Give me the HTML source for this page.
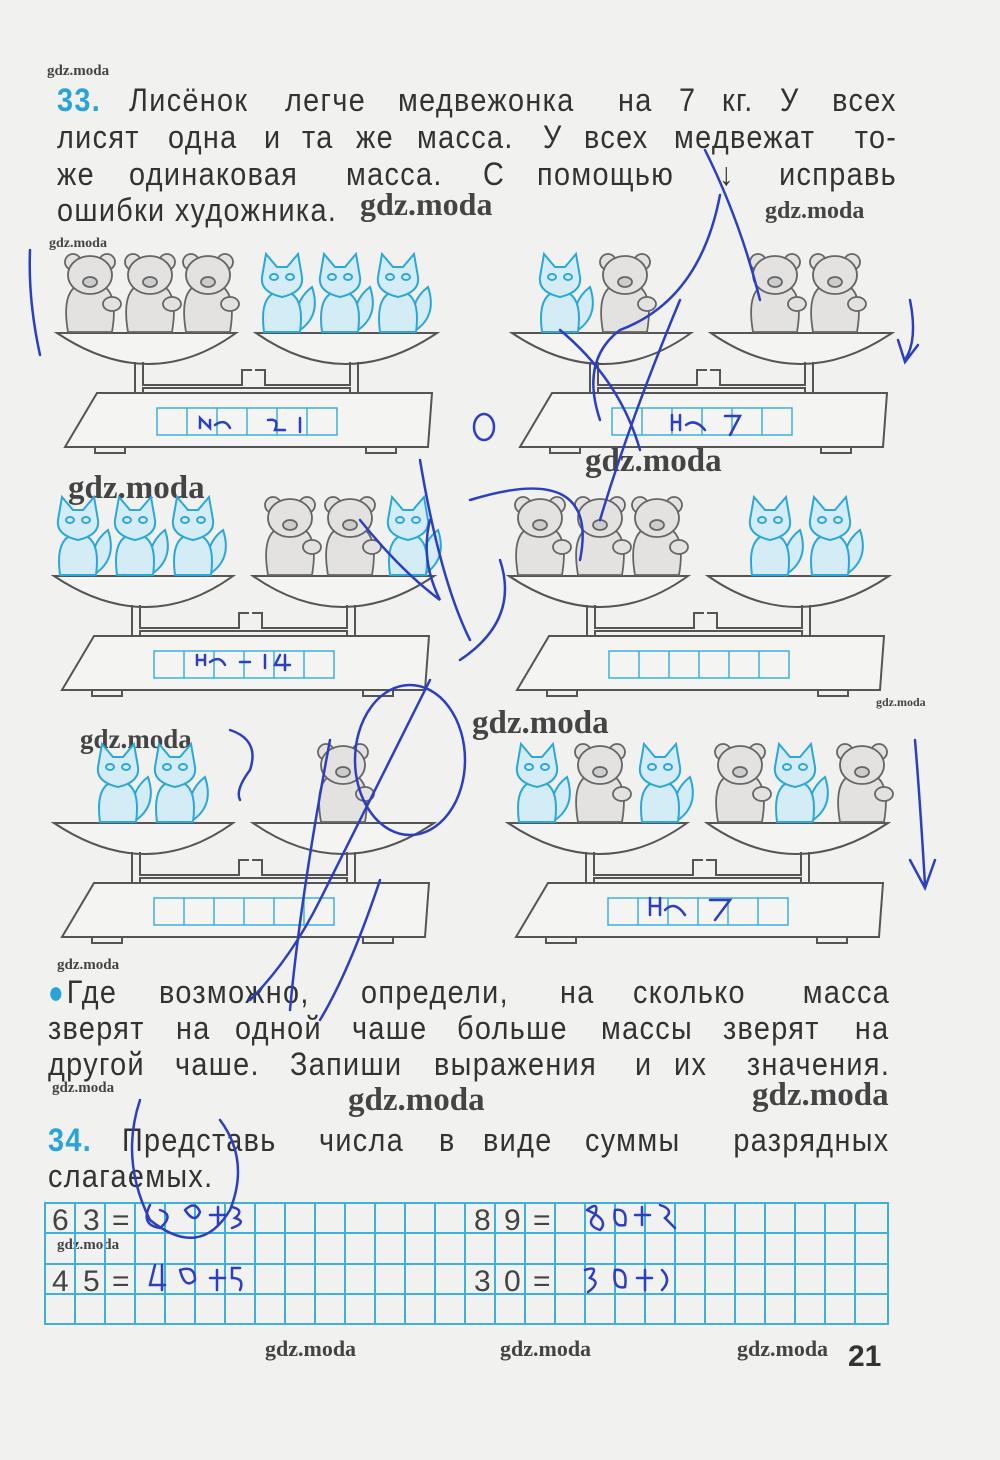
<!DOCTYPE html>
<html><head><meta charset="utf-8">
<style>
body{margin:0;background:#efefed;}
#p{position:relative;width:1000px;height:1460px;overflow:hidden;background:#f1f1ef;font-family:"Liberation Sans Narrow","Liberation Sans",sans-serif;color:#333;}
.ln{position:absolute;left:57px;width:840px;display:flex;justify-content:space-between;font-size:32px;line-height:36px;letter-spacing:1.5px;white-space:nowrap;}
.ln span{display:inline-block;transform:scaleX(.9);transform-origin:left center;}
.ln span.r{transform-origin:right center;}
.n{color:#2aa3d6;font-weight:bold;font-family:"Liberation Sans",sans-serif;}
.wm{position:absolute;font-family:"Liberation Serif",serif;font-weight:bold;color:#444;}
svg{position:absolute;left:0;top:0;}
</style></head><body><div id="p">
<div class="ln" style="top:82px"><span class="n">33.</span><span>Лисёнок</span><span>легче</span><span>медвежонка</span><span>на</span><span>7</span><span>кг.</span><span>У</span><span class="r">всех</span></div>
<div class="ln" style="top:119px"><span>лисят</span><span>одна</span><span>и</span><span>та</span><span>же</span><span>масса.</span><span>У</span><span>всех</span><span>медвежат</span><span class="r">то-</span></div>
<div class="ln" style="top:156px"><span>же</span><span>одинаковая</span><span>масса.</span><span>С</span><span>помощью</span><span>&#8595;</span><span class="r">исправь</span></div>
<div class="ln" style="top:192px;width:auto;"><span>ошибки художника.</span></div>

<div class="ln" style="top:974px;left:48px;width:842px"><span><span style="color:#2aa3d6">●</span>Где</span><span>возможно,</span><span>определи,</span><span>на</span><span>сколько</span><span class="r">масса</span></div>
<div class="ln" style="top:1010px;left:48px;width:842px"><span>зверят</span><span>на</span><span>одной</span><span>чаше</span><span>больше</span><span>массы</span><span>зверят</span><span class="r">на</span></div>
<div class="ln" style="top:1046px;left:48px;width:842px"><span>другой</span><span>чаше.</span><span>Запиши</span><span>выражения</span><span>и</span><span>их</span><span class="r">значения.</span></div>
<div class="ln" style="top:1122px;left:48px;width:842px"><span class="n">34.</span><span>Представь</span><span>числа</span><span>в</span><span>виде</span><span>суммы</span><span class="r">разрядных</span></div>
<div class="ln" style="top:1158px;left:48px;width:auto"><span>слагаемых.</span></div>

<div class="wm" style="left:47px;top:63px;font-size:15px">gdz.moda</div>
<div class="wm" style="left:360px;top:186px;font-size:32px">gdz.moda</div>
<div class="wm" style="left:765px;top:198px;font-size:24px">gdz.moda</div>
<div class="wm" style="left:49px;top:236px;font-size:14px">gdz.moda</div>
<div class="wm" style="left:68px;top:470px;font-size:33px">gdz.moda</div>
<div class="wm" style="left:585px;top:443px;font-size:33px">gdz.moda</div>
<div class="wm" style="left:80px;top:724px;font-size:27px">gdz.moda</div>
<div class="wm" style="left:472px;top:705px;font-size:33px">gdz.moda</div>
<div class="wm" style="left:876px;top:695px;font-size:12px">gdz.moda</div>
<div class="wm" style="left:57px;top:957px;font-size:15px">gdz.moda</div>
<div class="wm" style="left:52px;top:1080px;font-size:15px">gdz.moda</div>
<div class="wm" style="left:348px;top:1082px;font-size:33px">gdz.moda</div>
<div class="wm" style="left:752px;top:1077px;font-size:33px">gdz.moda</div>
<div class="wm" style="left:57px;top:1237px;font-size:15px">gdz.moda</div>
<div class="wm" style="left:265px;top:1336px;font-size:22px">gdz.moda</div>
<div class="wm" style="left:500px;top:1336px;font-size:22px">gdz.moda</div>
<div class="wm" style="left:737px;top:1336px;font-size:22px">gdz.moda</div>
<div style="position:absolute;left:848px;top:1340px;font:bold 30px 'Liberation Sans',sans-serif;color:#333">21</div>

<svg width="1000" height="1460" viewBox="0 0 1000 1460">
<defs>
<g id="scale" fill="none" stroke="#555" stroke-width="2">
 <path d="M57,333 L236,333 Q150,395 57,333 Z" fill="#f4f4f2"/>
 <path d="M256,333 L437,333 Q345,395 256,333 Z" fill="#f4f4f2"/>
 <path d="M135,362 V393 M143,362 V385 H242 V370 H252 M358,362 V393 M350,362 V385 H265 V370 H255 M143,393 V388 H350 V393"/>
 <path d="M97,393 L432,393 L428,447 L65,447 Z" fill="#f4f4f2"/>
 <rect x="95" y="447" width="30" height="6"/><rect x="366" y="447" width="30" height="6"/>
 <g stroke="#3fb0d8" stroke-width="1.5"><rect x="157" y="408" width="180" height="27"/>
 <path d="M187,408V435M217,408V435M247,408V435M277,408V435M307,408V435"/></g>
</g>
<g id="bear" fill="#e4e2e0" stroke="#666" stroke-width="1.8">
 <circle cx="-17" cy="-70" r="8"/><circle cx="17" cy="-70" r="8"/>
 <path d="M-22,0 Q-28,-35 -15,-45 L15,-45 Q28,-35 22,0 Z"/>
 <ellipse cx="0" cy="-57" rx="22" ry="19"/>
 <ellipse cx="0" cy="-50" rx="7" ry="5" fill="#ccc"/>
 <ellipse cx="22" cy="-28" rx="9" ry="7"/>
</g>
<g id="fox" fill="#d3ecf6" stroke="#2ba7d8" stroke-width="2">
 <path d="M15,0 Q40,-15 30,-45 Q10,-30 15,0 Z"/>
 <path d="M-18,0 Q-22,-30 -10,-38 L10,-38 Q22,-30 18,0 Z"/>
 <path d="M-20,-55 L-16,-78 L-5,-65 L5,-65 L16,-78 L20,-55 Q22,-40 0,-35 Q-22,-40 -20,-55 Z"/>
 <ellipse cx="-8" cy="-55" rx="4" ry="3"/><ellipse cx="8" cy="-55" rx="4" ry="3"/>
</g>
</defs>
<use href="#scale"/>
<use href="#bear" x="90" y="332"/><use href="#bear" x="150" y="332"/><use href="#bear" x="208" y="332"/>
<use href="#fox" x="282" y="332"/><use href="#fox" x="340" y="332"/><use href="#fox" x="398" y="332"/>
<g transform="translate(455,0)"><use href="#scale"/></g>
<use href="#fox" x="560" y="332"/><use href="#bear" x="625" y="332"/><use href="#bear" x="775" y="332"/><use href="#bear" x="835" y="332"/>
<g transform="translate(-3,243)"><use href="#scale"/></g>
<use href="#fox" x="78" y="575"/><use href="#fox" x="135" y="575"/><use href="#fox" x="193" y="575"/>
<use href="#bear" x="290" y="575"/><use href="#bear" x="350" y="575"/><use href="#fox" x="408" y="575"/>
<g transform="translate(452,243)"><use href="#scale"/></g>
<use href="#bear" x="540" y="575"/><use href="#bear" x="600" y="575"/><use href="#bear" x="657" y="575"/>
<use href="#fox" x="770" y="575"/><use href="#fox" x="830" y="575"/>
<g transform="translate(-3,490)"><use href="#scale"/></g>
<use href="#fox" x="118" y="822"/><use href="#fox" x="175" y="822"/><use href="#bear" x="343" y="822"/>
<g transform="translate(451,490)"><use href="#scale"/></g>
<use href="#fox" x="537" y="822"/><use href="#bear" x="600" y="822"/><use href="#fox" x="660" y="822"/>
<use href="#bear" x="740" y="822"/><use href="#fox" x="795" y="822"/><use href="#bear" x="862" y="822"/>

<g stroke="#3fb0d8" stroke-width="2" fill="none">
 <rect x="45" y="1203" width="843" height="121"/>
 <path d="M45,1233H888M45,1264H888M45,1294H888"/>
 <path d="M75,1203V1324M105,1203V1324M135,1203V1324M165,1203V1324M195,1203V1324M225,1203V1324M255,1203V1324M285,1203V1324M315,1203V1324M345,1203V1324M375,1203V1324M405,1203V1324M435,1203V1324M465,1203V1324M495,1203V1324M525,1203V1324M555,1203V1324M585,1203V1324M615,1203V1324M645,1203V1324M675,1203V1324M705,1203V1324M735,1203V1324M765,1203V1324M795,1203V1324M825,1203V1324M855,1203V1324"/>
</g>
<g font-family="Liberation Sans,sans-serif" font-size="30" fill="#444">
 <text x="52" y="1230">6</text><text x="83" y="1230">3</text><text x="112" y="1230">=</text>
 <text x="52" y="1291">4</text><text x="83" y="1291">5</text><text x="112" y="1291">=</text>
 <text x="474" y="1230">8</text><text x="504" y="1230">9</text><text x="533" y="1230">=</text>
 <text x="474" y="1291">3</text><text x="504" y="1291">0</text><text x="533" y="1291">=</text>
</g>
<g fill="none" stroke="#2b3fbf" stroke-width="2.5" stroke-linecap="round">
 <path d="M30,250 Q28,300 40,355"/><path d="M910,300 Q918,340 905,360 M898,340 L905,362 L918,345"/>
 <path d="M705,150 Q740,220 760,300 M720,195 Q700,300 620,330 Q580,360 600,420"/>
 <ellipse cx="484" cy="427" rx="10" ry="13"/>
 <path d="M560,330 Q620,380 640,450 M680,300 Q630,420 600,520"/>
 <path d="M360,520 Q400,570 440,600 Q420,560 430,520 M420,460 Q440,580 470,640"/>
 <path d="M500,560 Q520,620 460,660 M470,500 Q600,460 580,560"/>
 <ellipse cx="410" cy="760" rx="55" ry="75"/>
 <path d="M230,730 Q260,740 250,770 Q235,790 240,800"/>
 <path d="M430,680 Q380,780 320,900 Q290,960 250,1000"/>
 <path d="M330,740 Q300,900 290,1010 M380,880 Q350,970 320,1020"/>
 <path d="M915,740 Q920,800 925,885 M910,860 L925,888 L935,860"/>
 <path d="M140,1100 Q120,1160 150,1220 Q200,1260 230,1210 Q250,1160 220,1120"/>
 <path d="M150,1205 Q140,1225 160,1228 Q175,1215 160,1210 M185,1210 Q195,1225 200,1212 Q195,1200 185,1210 M210,1215 H225 M218,1207 V1225 M232,1207 Q245,1210 235,1218 Q248,1222 232,1228"/>
 <path d="M155,1265 L150,1285 H165 M162,1265 V1290 M180,1270 Q185,1290 195,1280 Q195,1265 180,1270 M210,1278 H225 M217,1270 V1290 M240,1268 H232 V1278 Q245,1278 240,1290"/>
 <path d="M587,1210 Q600,1200 595,1215 Q585,1225 600,1230 Q610,1220 587,1210 M615,1210 Q612,1228 625,1225 Q628,1208 615,1210 M635,1215 H650 M642,1207 V1225 M660,1205 Q675,1210 665,1218 L675,1228"/>
 <path d="M585,1270 Q600,1265 590,1278 Q602,1282 588,1292 M615,1270 Q612,1290 625,1287 Q628,1268 615,1270 M637,1278 H652 M645,1270 V1290 M662,1270 Q672,1280 662,1290"/>
 <path d="M200,428 V418 L210,428 V420 M215,425 Q225,418 230,428 M268,420 Q280,418 275,430 H285 M300,418 V432"/>
 <path d="M672,430 V415 M672,422 H680 M680,415 V430 M686,425 Q695,418 705,430 M725,416 H740 L730,435"/>
 <path d="M197,665 V655 M197,660 H205 M205,655 V665 M210,662 Q220,655 225,665 M240,662 H250 M265,655 V668 M280,655 L275,665 H290 M285,655 V670"/>
 <path d="M650,915 V898 M650,906 H660 M660,898 V915 M665,910 Q675,900 685,915 M710,900 H730 L715,920"/>
</g>
</svg>
</div></body></html>
